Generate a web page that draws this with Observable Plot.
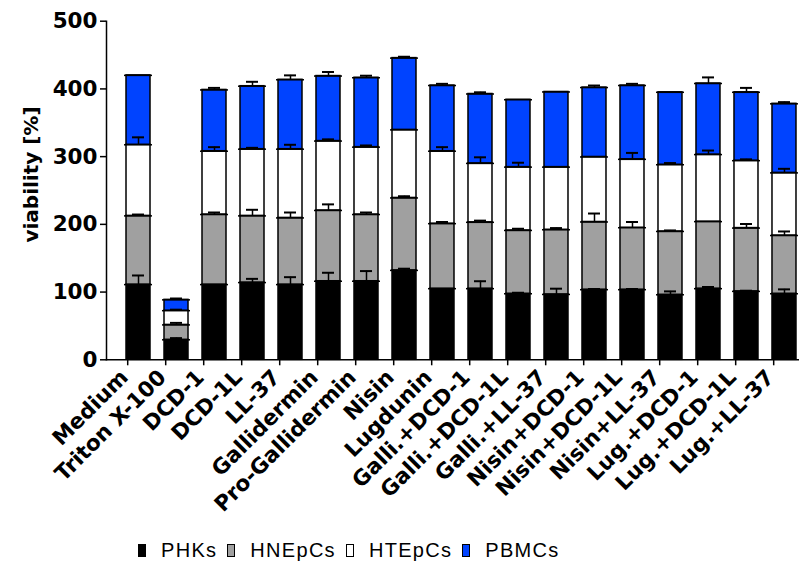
<!DOCTYPE html>
<html><head><meta charset="utf-8">
<script src="https://cdn.jsdelivr.net/npm/d3@7"></script>
<script src="https://cdn.jsdelivr.net/npm/@observablehq/plot@0.6"></script>
<style>
body{margin:0;background:#fff;overflow:hidden;width:799px;height:574px;position:relative}
#chart{position:absolute;left:0;top:0;width:799px;height:530px;overflow:hidden}
#chart svg{max-width:none !important}
#legend{position:absolute;left:138px;top:540px;height:20px;display:flex;align-items:center;font-family:"Liberation Sans",Arial,sans-serif;font-size:20px;letter-spacing:1.3px;color:#000;white-space:nowrap}
.it{display:flex;align-items:center;margin-right:10px;flex-shrink:0}
.sw{width:6px;height:11px;border:1.5px solid #000;margin-right:15px;flex-shrink:0}
</style></head><body>
<div id="chart"></div><div id="legend"></div>
<script>
const categories = ["Medium","Triton X-100","DCD-1","DCD-1L","LL-37","Gallidermin","Pro-Gallidermin","Nisin","Lugdunin","Galli.+DCD-1","Galli.+DCD-1L","Galli.+LL-37","Nisin+DCD-1","Nisin+DCD-1L","Nisin+LL-37","Lug.+DCD-1","Lug.+DCD-1L","Lug.+LL-37"];
const series = ["PHKs","HNEpCs","HTEpCs","PBMCs"];
const colors = ["#000000","#a0a0a0","#ffffff","#0043ff"];
const yTicks = [0,100,200,300,400,500];

const phks      = [111, 29.5, 111, 114, 111, 116, 116, 132, 105, 105, 97.5, 96.5, 103.5, 103.5, 96, 105, 101, 97.5];
const phksErr   = [13.5, 2.5, 0, 5.5, 11, 12.5, 15, 2.5, 0, 11, 1.5, 8.5, 1, 1, 5, 2.5, 1, 6.5];
const hnepcs    = [101.5, 22, 103.5, 98.5, 98.5, 104.5, 98.5, 107, 96, 98, 93.5, 95.5, 100, 91.5, 93.5, 99, 93.5, 86];
const hnepcsErr = [2, 3, 3, 9, 8, 9, 3, 2.5, 2.5, 2.5, 2.5, 2.5, 12.5, 8.5, 1.5, 0, 6, 6];
const htepcs    = [105, 21, 93.5, 98.5, 101.5, 102.5, 99.5, 100.5, 107, 87, 93.5, 92.5, 96, 101, 98.5, 99, 99.5, 92.5];
const htepcsErr = [11, 1.5, 6, 2, 6.5, 2.5, 2.5, 0, 6, 9, 6.5, 0, 0, 9.5, 2.5, 6, 2, 6];
const pbmcs     = [102.5, 16, 90.5, 93, 102.5, 96, 102.5, 106, 97, 102.5, 99.5, 111, 102.5, 109, 107, 105, 101, 102];
const pbmcsErr  = [0, 2, 3, 6.5, 6.5, 6, 3, 2, 2.5, 2.5, 0, 0, 3, 2.5, 0, 9, 6.5, 2.5];

const values = [phks, hnepcs, htepcs, pbmcs];
const errors = [phksErr, hnepcsErr, htepcsErr, pbmcsErr];
const rows = [];
categories.forEach((c, i) => {
  let base = 0;
  series.forEach((s, j) => {
    const v = values[j][i];
    const top = base + v;
    rows.push({cat: c, series: s, value: v, top, err: errors[j][i]});
    base = top;
  });
});
const errRows = rows.filter(d => d.err > 0);

const plot = Plot.plot({
  width: 815.6, height: 530,
  marginLeft: 106, marginRight: 0, marginTop: 20.7, marginBottom: 170.7,
  style: "font-family: 'DejaVu Sans', sans-serif; font-size: 21.5px; font-weight: bold; color: #000; background: #fff; overflow: hidden;",
  x: {domain: categories, paddingInner: 0.38, paddingOuter: 0.329, label: null},
  y: {domain: [0, 500], label: null},
  color: {domain: series, range: colors},
  marks: [
    Plot.barY(rows, {x: "cat", y: "value", fill: "series", stroke: "#000", strokeWidth: 1.5, inset: 0}),
    Plot.tickY(rows, {x: "cat", y: "top", insetLeft: -2, insetRight: -2, strokeWidth: 1.5}),
    Plot.ruleX(errRows, {x: "cat", y1: "top", y2: d => d.top + d.err, strokeWidth: 1.5}),
    Plot.tickY(errRows, {x: "cat", y: d => d.top + d.err, insetLeft: 6, insetRight: 6, strokeWidth: 2}),
    Plot.frame({anchor: "left", strokeWidth: 1.5}),
    Plot.frame({anchor: "bottom", strokeWidth: 1.5}),
    Plot.axisY({ticks: yTicks, tickSize: 6, tickPadding: 3, strokeWidth: 1.5, label: null}),
    Plot.axisX({tickSize: 6, dx: -10.8, tickFormat: () => "", strokeWidth: 1.5, label: null}),
    Plot.axisX({tickSize: 0, dx: -14, tickPadding: 14, tickRotate: -45, label: null}),
    Plot.text(["viability [%]"], {text: d => d, frameAnchor: "left", y: [273.6], dx: -75, rotate: -90, fontSize: 20, fontWeight: "bold", textAnchor: "middle"})
  ]
});
document.getElementById("chart").appendChild(plot);

const legend = document.getElementById("legend");
series.forEach((s, j) => {
  const it = document.createElement("div");
  it.className = "it";
  const sw = document.createElement("div");
  sw.className = "sw";
  sw.style.background = colors[j];
  const t = document.createElement("span");
  t.textContent = s;
  it.appendChild(sw); it.appendChild(t);
  legend.appendChild(it);
});
</script>
</body></html>
